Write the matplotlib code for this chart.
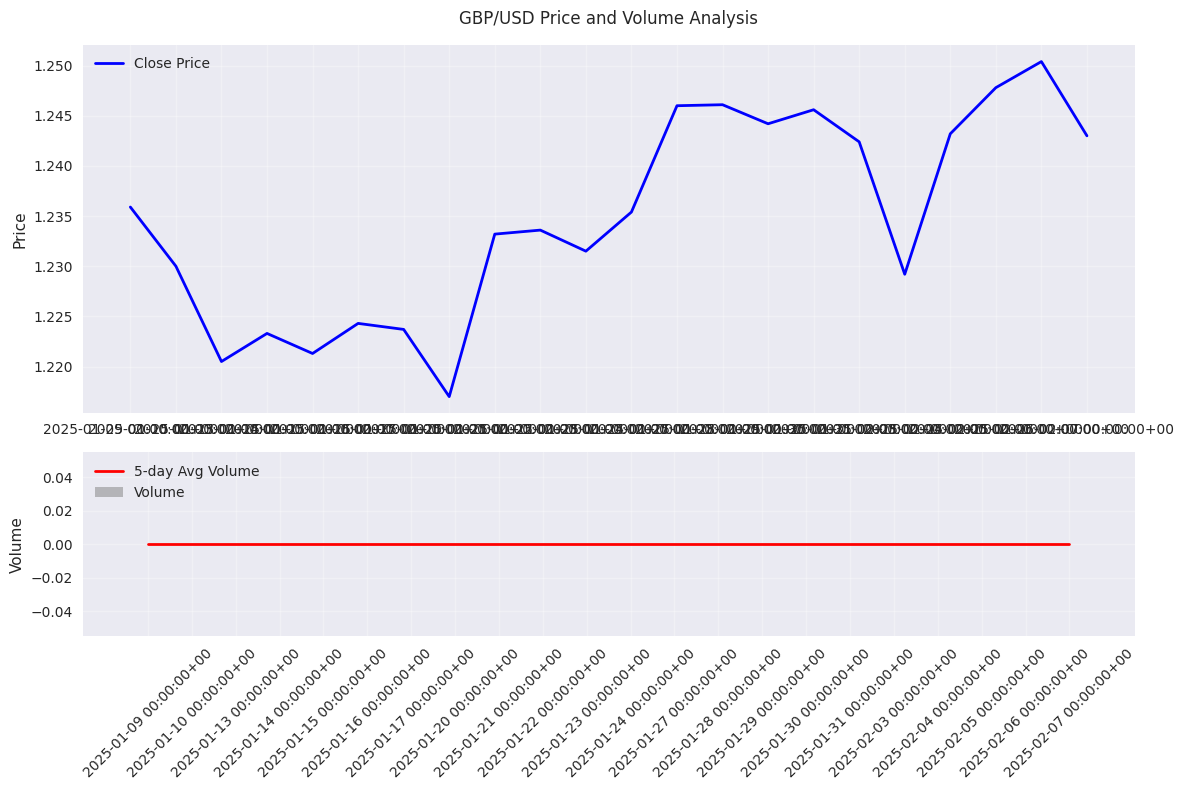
import matplotlib
matplotlib.use('Agg')
import matplotlib.pyplot as plt

# ── DATA ─────────────────────────────────────────
dates = [
    "2025-01-09", "2025-01-10", "2025-01-13", "2025-01-14", "2025-01-15",
    "2025-01-16", "2025-01-17", "2025-01-20", "2025-01-21", "2025-01-22",
    "2025-01-23", "2025-01-24", "2025-01-27", "2025-01-28", "2025-01-29",
    "2025-01-30", "2025-01-31", "2025-02-03", "2025-02-04", "2025-02-05",
    "2025-02-06", "2025-02-07",
]
labels = [d + " 00:00:00+00" for d in dates]

close = [1.2359, 1.2300, 1.2205, 1.2233, 1.2213, 1.2243, 1.2237, 1.2170,
         1.2332, 1.2336, 1.2315, 1.2354, 1.2460, 1.2461, 1.2442, 1.2456,
         1.2424, 1.2292, 1.2432, 1.2478, 1.2504, 1.2430]
volume = [0] * 22
vol_avg = [0.0] * 22

# ── STYLE ────────────────────────────────────────
plt.style.use('seaborn-v0_8')
plt.rcParams['font.family'] = ['DejaVu Sans']

fig, (ax1, ax2) = plt.subplots(2, 1, figsize=(12, 8), dpi=100,
                               gridspec_kw={'height_ratios': [2, 1]})

# price panel
ax1.plot(labels, close, color='blue', linewidth=2, label='Close Price')
ax1.set_title('GBP/USD Price and Volume Analysis', pad=15)
ax1.set_ylabel('Price')
ax1.legend(loc='upper left')
ax1.grid(True, alpha=0.3)

# volume panel
ax2.bar(labels, volume, color='gray', alpha=0.5, label='Volume')
ax2.plot(labels, vol_avg, color='red', linewidth=2, label='5-day Avg Volume')
ax2.set_ylabel('Volume')
ax2.legend(loc='upper left')
ax2.grid(True, alpha=0.3)
ax2.tick_params(axis='x', rotation=45)

plt.tight_layout()
plt.savefig('out.png', dpi=100, bbox_inches='tight')
plt.close()
